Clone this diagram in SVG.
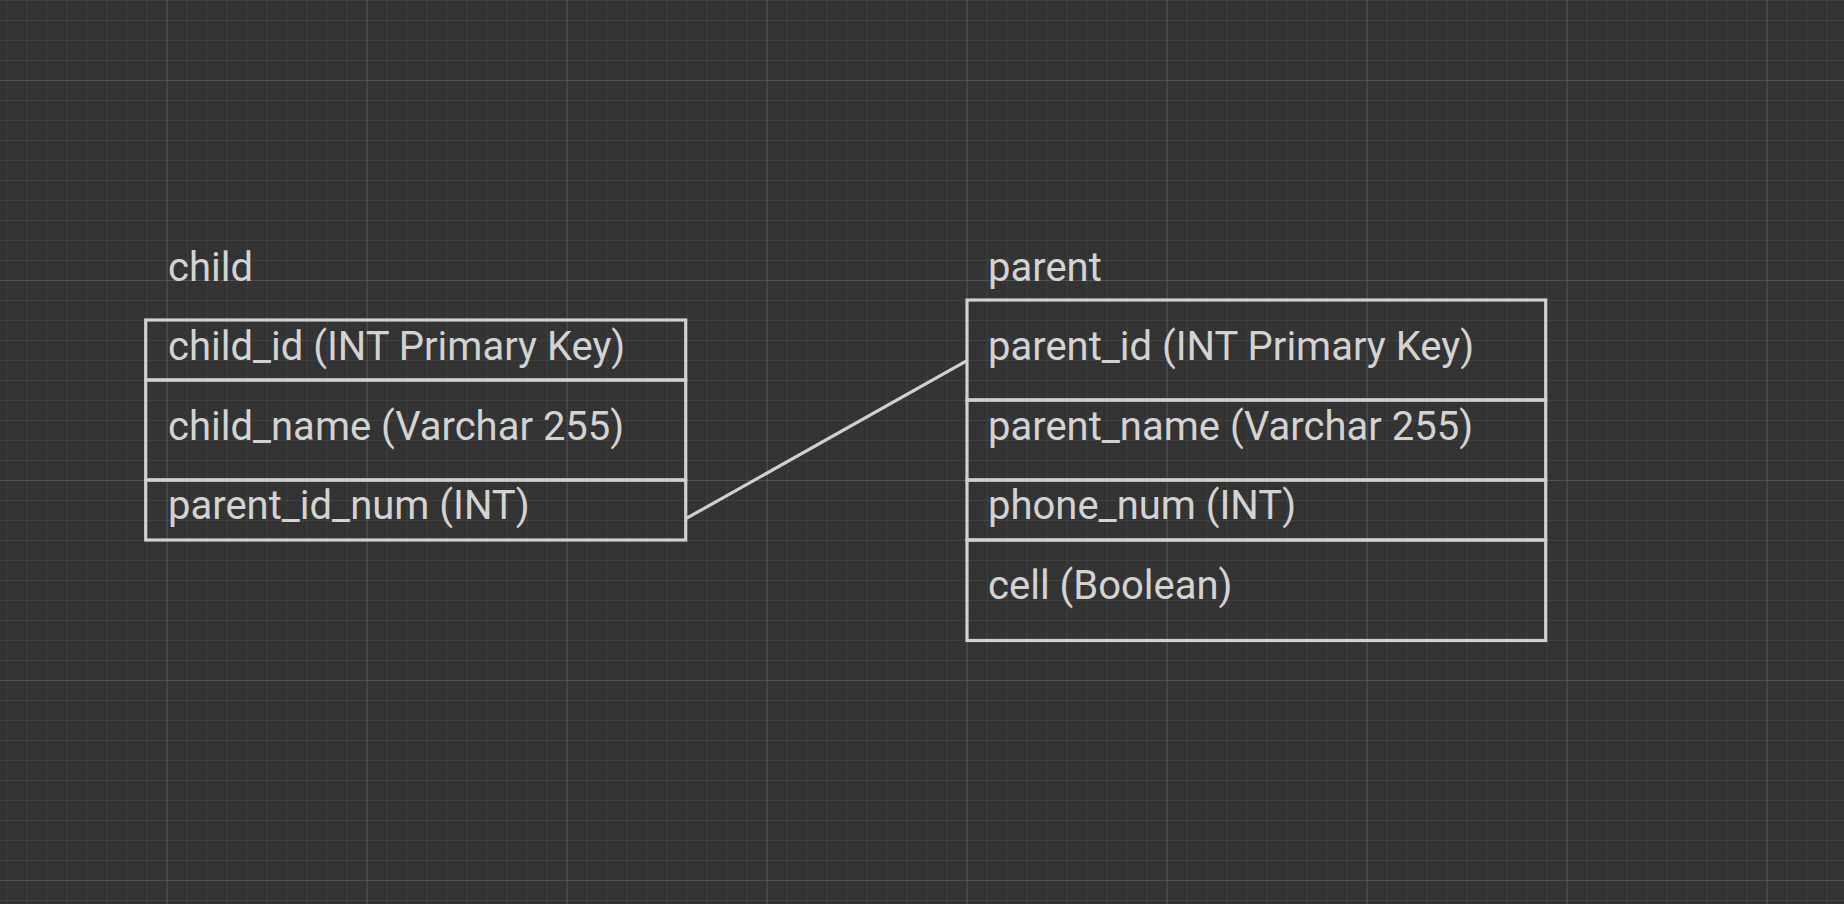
<svg xmlns="http://www.w3.org/2000/svg" width="1844" height="904" viewBox="0 0 1844 904">
  <defs>
    <pattern id="minorGrid" patternUnits="userSpaceOnUse" x="6.667" y="0" width="20" height="20">
      <path d="M0 0 H20 M0 0 V20" fill="none" stroke="#4b4b4b" stroke-width="1"/>
    </pattern>
    <pattern id="majorGrid" patternUnits="userSpaceOnUse" x="166.667" y="80" width="200" height="200">
      <path d="M0 0 H200 M0 0 V200" fill="none" stroke="#636363" stroke-width="1"/>
    </pattern>
  </defs>
  <style>
    .row { fill: none; stroke: #d0d0d0; stroke-width: 3.2; }
    .txt { font-family: Roboto, "Liberation Sans", sans-serif; font-size: 40px; fill: #d3d3d3; }
    .edge { fill: none; stroke: #d0d0d0; stroke-width: 3.2; }
  </style>
  <rect x="0" y="0" width="1844" height="904" fill="#333333"/>
  <rect x="0" y="0" width="1844" height="904" fill="url(#minorGrid)"/>
  <rect x="0" y="0" width="1844" height="904" fill="url(#majorGrid)"/>

  <g id="connectors">
    <line class="edge" x1="685.8" y1="518.7" x2="967" y2="360.7"/>
  </g>

  <g id="child">
    <text class="txt" x="168" y="280.5">child</text>
    <rect class="row" x="145.7" y="320" width="540" height="60"/>
    <rect class="row" x="145.7" y="380" width="540" height="100"/>
    <rect class="row" x="145.7" y="480" width="540" height="60"/>
    <text class="txt" x="168" y="359.5">child_id (INT Primary Key)</text>
    <text class="txt" x="168" y="439.5">child_name (Varchar 255)</text>
    <text class="txt" x="168" y="519">parent_id_num (INT)</text>
  </g>

  <g id="parent">
    <text class="txt" x="988" y="280.5">parent</text>
    <rect class="row" x="967" y="300" width="578.7" height="100"/>
    <rect class="row" x="967" y="400" width="578.7" height="80"/>
    <rect class="row" x="967" y="480" width="578.7" height="60"/>
    <rect class="row" x="967" y="540" width="578.7" height="100.5"/>
    <text class="txt" x="988" y="359.5">parent_id (INT Primary Key)</text>
    <text class="txt" x="988" y="439.5">parent_name (Varchar 255)</text>
    <text class="txt" x="988" y="519">phone_num (INT)</text>
    <text class="txt" x="988" y="598.5">cell (Boolean)</text>
  </g>
</svg>
